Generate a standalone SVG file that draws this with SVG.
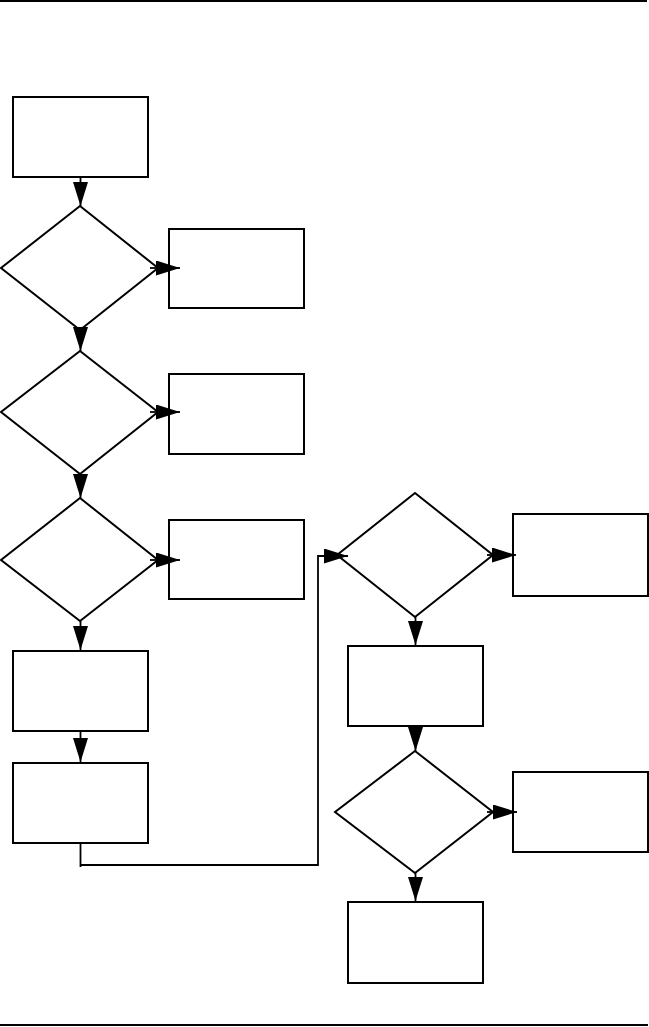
<svg xmlns="http://www.w3.org/2000/svg" width="649" height="1027" viewBox="0 0 649 1027">
<style>
.n{fill:#fff;stroke:#000;stroke-width:2}
.c{fill:none;stroke:#000;stroke-width:1.8}
.rule{stroke:#000;stroke-width:2}
</style>
<defs>
<marker id="ah" viewBox="0 0 24 15" refX="24" refY="7.5" markerWidth="24" markerHeight="15" markerUnits="userSpaceOnUse" orient="auto">
<path d="M0,0 L24,7.5 L0,15 z" fill="#000"/>
</marker>
</defs>
<rect width="649" height="1027" fill="#fff"/>
<line class="rule" x1="0" y1="1" x2="647" y2="1"/>
<line class="rule" x1="0" y1="1025" x2="648" y2="1025"/>
<g id="box1"><rect class="n" x="13" y="97" width="135" height="80"/></g>
<g id="dec1"><polygon class="n" points="80,206 158,268 80,330 1,268"/></g>
<g id="boxR1"><rect class="n" x="169" y="229" width="135" height="79"/></g>
<g id="dec2"><polygon class="n" points="80,351 158,412 80,474 1,412"/></g>
<g id="boxR2"><rect class="n" x="169" y="374" width="135" height="80"/></g>
<g id="dec3"><polygon class="n" points="80,498 158,560 80,621 1,560"/></g>
<g id="boxR3"><rect class="n" x="169" y="520" width="135" height="79"/></g>
<g id="box4"><rect class="n" x="13" y="651" width="135" height="80"/></g>
<g id="box5"><rect class="n" x="13" y="763" width="135" height="80"/></g>
<g id="dec4"><polygon class="n" points="415,493 493,555 415,617 337,555"/></g>
<g id="boxR4"><rect class="n" x="513" y="514" width="135" height="82"/></g>
<g id="box6"><rect class="n" x="348" y="646" width="135" height="80"/></g>
<g id="dec5"><polygon class="n" points="415,751 493,812 415,873 335,812"/></g>
<g id="boxR5"><rect class="n" x="513" y="772" width="135" height="80"/></g>
<g id="box7"><rect class="n" x="348" y="902" width="135" height="81"/></g>
<g id="connectors">
<line class="c" x1="80.5" y1="177" x2="80.5" y2="206" marker-end="url(#ah)"/>
<line class="c" x1="80.5" y1="330" x2="80.5" y2="351" marker-end="url(#ah)"/>
<line class="c" x1="80.5" y1="474" x2="80.5" y2="498" marker-end="url(#ah)"/>
<line class="c" x1="80.5" y1="621" x2="80.5" y2="650" marker-end="url(#ah)"/>
<line class="c" x1="80.5" y1="731" x2="80.5" y2="762" marker-end="url(#ah)"/>
<line class="c" x1="150" y1="268" x2="180" y2="268" marker-end="url(#ah)"/>
<line class="c" x1="150" y1="412" x2="180" y2="412" marker-end="url(#ah)"/>
<line class="c" x1="150" y1="560" x2="180" y2="560" marker-end="url(#ah)"/>
<path class="c" d="M80.5,843 V867 M80.5,865 H318 V556 H348" marker-end="url(#ah)"/>
<line class="c" x1="487" y1="555" x2="516" y2="555" marker-end="url(#ah)"/>
<line class="c" x1="415.5" y1="617" x2="415.5" y2="645" marker-end="url(#ah)"/>
<line class="c" x1="415.5" y1="726" x2="415.5" y2="751" marker-end="url(#ah)"/>
<line class="c" x1="487" y1="812" x2="517" y2="812" marker-end="url(#ah)"/>
<line class="c" x1="415.5" y1="873" x2="415.5" y2="901" marker-end="url(#ah)"/>
</g>
</svg>
